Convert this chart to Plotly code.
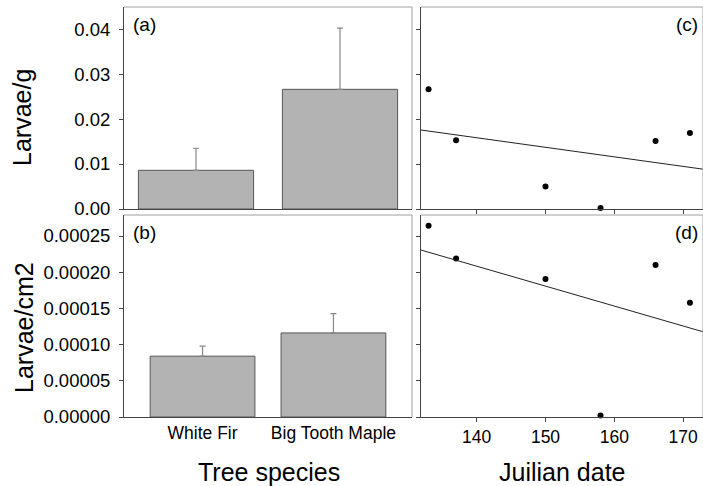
import numpy as np
import plotly.graph_objects as go

# ---- data ----
species = ["White Fir", "Big Tooth Maple"]
larvae_g = [0.0086, 0.0266]
larvae_g_se = [0.0049, 0.0136]
larvae_cm2 = [0.0000840, 0.0001161]
larvae_cm2_se = [0.0000138, 0.0000266]

julian = [133, 137, 150, 158, 166, 171]
date_larvae_g = [0.0266, 0.0153, 0.0050, 0.0002, 0.0151, 0.0169]
date_larvae_cm2 = [0.000264, 0.000219, 0.0001905, 0.000002, 0.000210, 0.0001578]

yticks_a = [0.00, 0.01, 0.02, 0.03, 0.04]
yticks_b = [0.0, 0.00005, 0.00010, 0.00015, 0.00020, 0.00025]
xticks_date = [140, 150, 160, 170]

W, H = 703, 486
DARK = "#444444"
LIGHT = "#a0a0a0"
BAR = "#b3b3b3"
FONT = "Liberation Sans, Arial, sans-serif"

def px_x(v):
    return v / W

def px_y(v):
    return 1 - v / H

xr_date = [131.9, 172.9]

fig = go.Figure()

bar_kw = dict(marker=dict(color=BAR, line=dict(color="#555555", width=1)), width=0.8, showlegend=False)
err_kw = dict(type="data", symmetric=False, color="#888888", thickness=1.2, width=3)

fig.add_trace(go.Bar(x=species, y=larvae_g, xaxis="x", yaxis="y",
                     error_y=dict(array=larvae_g_se, arrayminus=[0, 0], **err_kw), **bar_kw))
fig.add_trace(go.Bar(x=species, y=larvae_cm2, xaxis="x2", yaxis="y2",
                     error_y=dict(array=larvae_cm2_se, arrayminus=[0, 0], **err_kw), **bar_kw))

mk = dict(color="black", size=6)
fig.add_trace(go.Scatter(x=julian, y=date_larvae_g, mode="markers", marker=mk,
                         xaxis="x3", yaxis="y3", showlegend=False, cliponaxis=False))
fig.add_trace(go.Scatter(x=julian, y=date_larvae_cm2, mode="markers", marker=mk,
                         xaxis="x4", yaxis="y4", showlegend=False, cliponaxis=False))

# regression lines fitted from the data
xs = np.array(xr_date)
for ys, xa, ya in [(date_larvae_g, "x3", "y3"), (date_larvae_cm2, "x4", "y4")]:
    k, b = np.polyfit(julian, ys, 1)
    fig.add_trace(go.Scatter(x=xs, y=k * xs + b, mode="lines",
                             line=dict(color="#222222", width=1),
                             xaxis=xa, yaxis=ya, showlegend=False))

dom_xl = [px_x(124), px_x(412)]
dom_xr = [px_x(421), 1.0]
dom_yt = [px_y(209), px_y(7)]
dom_yb = [px_y(417), px_y(215)]

ax_common = dict(showline=True, linecolor=DARK, linewidth=1, showgrid=False, zeroline=False,
                 tickcolor=DARK, ticklen=4, tickwidth=1, automargin=False,
                 tickfont=dict(family=FONT, size=18.5, color="black"))
small_tick = dict(family=FONT, size=17.5, color="black")

fig.update_layout(
    template="none",
    width=W, height=H,
    margin=dict(l=0, r=0, t=0, b=0, autoexpand=False),
    paper_bgcolor="white", plot_bgcolor="white",
    font=dict(family=FONT, color="black"),
    xaxis=dict(domain=dom_xl, anchor="y", type="category", range=[-0.5, 1.5],
               showticklabels=False, ticks="", **{k: v for k, v in ax_common.items() if k != "tickfont"}),
    yaxis=dict(domain=dom_yt, anchor="x", range=[0, 0.0449], tickvals=yticks_a,
               tickformat=".2f", ticks="outside", ticklabelstandoff=5, **ax_common),
    xaxis2=dict(domain=dom_xl, anchor="y2", type="category", range=[-0.6, 1.6], ticks="",
                **{**ax_common, "tickfont": small_tick}),
    yaxis2=dict(domain=dom_yb, anchor="x2", range=[0, 0.000279], tickvals=yticks_b,
                tickformat=".5f", ticks="outside", ticklabelstandoff=5, **ax_common),
    xaxis3=dict(domain=dom_xr, anchor="y3", range=xr_date, tickvals=xticks_date,
                ticks="outside", showticklabels=False, **ax_common),
    yaxis3=dict(domain=dom_yt, anchor="x3", range=[0, 0.0449], tickvals=yticks_a,
                ticks="outside", showticklabels=False, **ax_common),
    xaxis4=dict(domain=dom_xr, anchor="y4", range=xr_date, tickvals=xticks_date,
                ticks="outside", **{**ax_common, "tickfont": small_tick}),
    yaxis4=dict(domain=dom_yb, anchor="x4", range=[0, 0.000279], tickvals=yticks_b,
                ticks="outside", showticklabels=False, **ax_common),
)

# light top/right frame lines
shapes = []
for xa, ya in [("x", "y"), ("x2", "y2"), ("x3", "y3"), ("x4", "y4")]:
    shapes.append(dict(type="line", xref=f"{xa} domain", yref=f"{ya} domain",
                       x0=0, x1=1, y0=1, y1=1, line=dict(color=LIGHT, width=1)))
    shapes.append(dict(type="line", xref=f"{xa} domain", yref=f"{ya} domain",
                       x0=1, x1=1, y0=0, y1=1, line=dict(color=LIGHT, width=1)))
fig.update_layout(shapes=shapes)

ann = []
lab_font = dict(family=FONT, size=19, color="black")
for txt, xa, ya, xx, xanchor in [("(a)", "x", "y", 0.025, "left"), ("(b)", "x2", "y2", 0.025, "left"),
                                 ("(c)", "x3", "y3", 0.99, "right"), ("(d)", "x4", "y4", 0.99, "right")]:
    ann.append(dict(text=txt, xref=f"{xa} domain", yref=f"{ya} domain", x=xx, y=0.975,
                    xanchor=xanchor, yanchor="top", showarrow=False, font=lab_font))

title_font = dict(family=FONT, size=25, color="black")
ann.append(dict(text="Larvae/g", xref="paper", yref="paper", x=px_x(22), y=px_y(118),
                textangle=-90, showarrow=False, font=title_font, xanchor="center", yanchor="middle"))
ann.append(dict(text="Larvae/cm2", xref="paper", yref="paper", x=px_x(24), y=px_y(328),
                textangle=-90, showarrow=False, font=title_font, xanchor="center", yanchor="middle"))
ann.append(dict(text="Tree species", xref="paper", yref="paper", x=px_x(269), y=px_y(472),
                showarrow=False, font=title_font, xanchor="center", yanchor="middle"))
ann.append(dict(text="Juilian date", xref="paper", yref="paper", x=px_x(562), y=px_y(472),
                showarrow=False, font=title_font, xanchor="center", yanchor="middle"))
fig.update_layout(annotations=ann)

fig.write_html("out.html", config={"displayModeBar": False},
               post_script="document.body.style.margin='0';document.body.style.overflow='hidden';")
